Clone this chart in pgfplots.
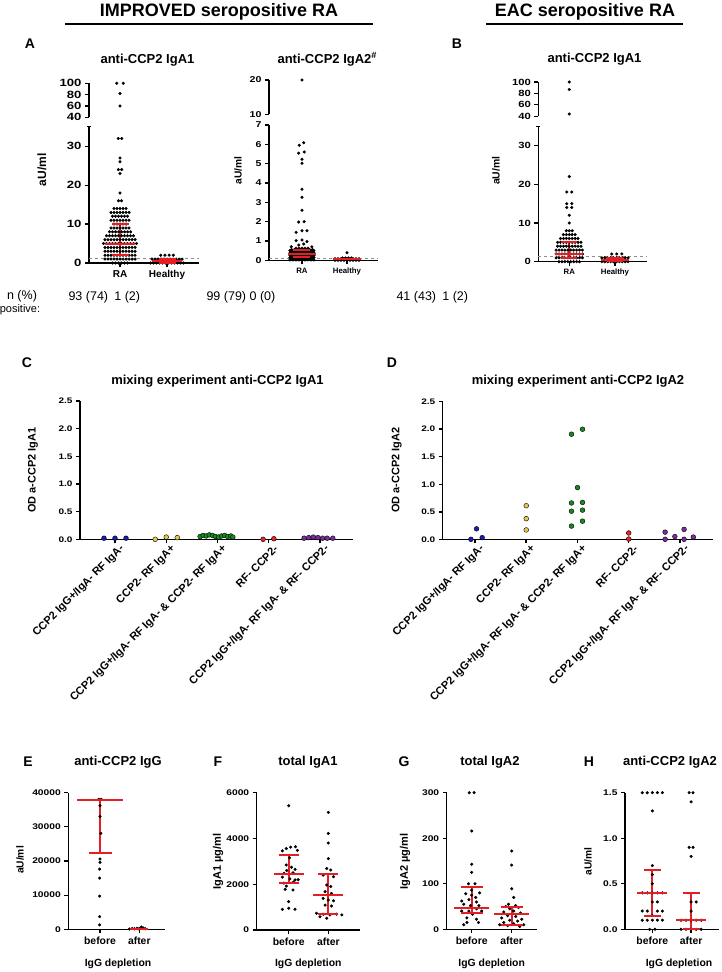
\documentclass[border=0pt]{standalone}
\usepackage{fontspec}
\setmainfont{Liberation Sans}
\newfontfamily\widefont[FakeStretch=1.25]{Liberation Sans}
\usepackage{pgfplots}
\pgfplotsset{compat=1.18}
\definecolor{ebred}{HTML}{E31E24}
\definecolor{cblue}{HTML}{1C1CB4}
\definecolor{cyellow}{HTML}{E6C84A}
\definecolor{cgreen}{HTML}{178A1E}
\definecolor{cred}{HTML}{E8252A}
\definecolor{cpurple}{HTML}{7B2C9C}
\newcommand{\fs}[1]{\fontsize{#1}{#1}\selectfont}
\newcommand{\tf}[1]{\widefont\bfseries\fontsize{#1}{#1}\selectfont}
\pgfplotsset{
  gp/.style={scale only axis, anchor=south west, axis x line*=bottom, axis y line*=left,
    tick align=outside, major tick length=4pt,
    axis line style={line width=1.2pt},
    tick style={line width=1.2pt, black},
    clip=false, scaled y ticks=false,
    /pgf/number format/assume math mode=true},
  upper/.style={axis x line=none, xtick=\empty},
  dots/.style={only marks, mark=*, mark size=1.35pt, mark options={draw=none, fill=black}},
  cdots/.style={only marks, mark=*, mark size=2.4pt, mark options={draw=none, fill=#1}},
  med/.style={only marks, mark=-, mark size=#1, ebred, line width=2pt},
  bar/.style={ebred, line width=2pt},
  cut/.style={black!45, dashed, line width=0.8pt},
}
\begin{document}
\begin{tikzpicture}
\path[use as bounding box] (0,0) rectangle (721pt,972pt);
% ---------- headers ----------
\node[anchor=base] at (219pt,955.3pt) {\bfseries\fs{18}IMPROVED seropositive RA};
\draw[line width=1.5pt] (65pt,948pt) -- (373pt,948pt);
\node[anchor=base] at (585pt,955.3pt) {\bfseries\fs{18}EAC seropositive RA};
\draw[line width=1.5pt] (486pt,948pt) -- (683pt,948pt);
\node[anchor=base] at (30pt,923.7pt) {\bfseries\fs{14}A};
\node[anchor=base] at (457pt,923.7pt) {\bfseries\fs{14}B};
\node[anchor=base west] at (97pt,908.7pt) {\bfseries\fs{13}anti-CCP2 IgA1};
\node[anchor=base west] at (274pt,908.7pt) {\bfseries\fs{13}anti-CCP2 IgA2\textsuperscript{\#}};
\node[anchor=base west] at (544pt,909.5pt) {\bfseries\fs{13}anti-CCP2 IgA1};
\node[rotate=90] at (42pt,802pt) {\bfseries\fs{12}aU/ml};
\node[rotate=90] at (238pt,801.5pt) {\bfseries\fs{10.2}aU/ml};
\node[rotate=90] at (496pt,801.2pt) {\bfseries\fs{10.4}aU/ml};
\node[anchor=base] at (22pt,672pt) {\fs{12.5}n (\%)};
\node[anchor=base] at (20pt,659.3pt) {\fs{11}positive:};
\node[anchor=base west] at (65pt,671.7pt) {\fs{12.5}93 (74)\enspace 1 (2)};
\node[anchor=base west] at (203pt,671.7pt) {\fs{12.5}99 (79) 0 (0)};
\node[anchor=base west] at (393pt,671.7pt) {\fs{12.5}41 (43)\enspace 1 (2)};
% ---------- panel A IgA1 lower ----------
\begin{axis}[gp, at={(89pt,709pt)}, width=110pt, height=136.2pt,
  xmin=0.34, xmax=2.68, ymin=0, ymax=35,
  ytick={0,10,20,30}, yticklabels={0,10,20,30},
  extra y ticks={35}, extra y tick labels={}, extra y tick style={tick align=center},
  xtick={1,2}, xticklabels={RA,Healthy},
  yticklabel style={font=\tf{10.5}}, xticklabel style={font=\bfseries\fs{10}}]
\addplot[cut] coordinates {(0.34,1.2)(2.68,1.2)};
\addplot[dots] coordinates {
(0.84,0)(0.904,0)(0.968,0)(1.032,0)(1.096,0)(1.16,0)
(0.68,1)(0.744,1)(0.808,1)(0.872,1)(0.936,1)(1,1)(1.064,1)(1.128,1)(1.192,1)(1.256,1)(1.32,1)
(0.68,2)(0.744,2)(0.808,2)(0.872,2)(0.936,2)(1,2)(1.064,2)(1.128,2)(1.192,2)(1.256,2)(1.32,2)
(0.68,3)(0.744,3)(0.808,3)(0.872,3)(0.936,3)(1,3)(1.064,3)(1.128,3)(1.192,3)(1.256,3)(1.32,3)
(0.68,4)(0.744,4)(0.808,4)(0.872,4)(0.936,4)(1,4)(1.064,4)(1.128,4)(1.192,4)(1.256,4)(1.32,4)
(0.648,5)(0.712,5)(0.776,5)(0.84,5)(0.904,5)(0.968,5)(1.032,5)(1.096,5)(1.16,5)(1.224,5)(1.288,5)(1.352,5)
(0.68,6)(0.744,6)(0.808,6)(0.872,6)(0.936,6)(1,6)(1.064,6)(1.128,6)(1.192,6)(1.256,6)(1.32,6)
(0.712,7)(0.776,7)(0.84,7)(0.904,7)(0.968,7)(1.032,7)(1.096,7)(1.16,7)(1.224,7)(1.288,7)
(0.776,8)(0.84,8)(0.904,8)(0.968,8)(1.032,8)(1.096,8)(1.16,8)(1.224,8)
(0.808,9)(0.872,9)(0.936,9)(1,9)(1.064,9)(1.128,9)(1.192,9)
(0.872,10)(0.936,10)(1,10)(1.064,10)(1.128,10)
(0.808,11)(0.872,11)(0.936,11)(1,11)(1.064,11)(1.128,11)(1.192,11)
(0.84,12)(0.904,12)(0.968,12)(1.032,12)(1.096,12)(1.16,12)
(0.808,13)(0.872,13)(0.936,13)(1,13)(1.064,13)(1.128,13)(1.192,13)
(0.872,14)(0.936,14)(1,14)(1.064,14)(1.128,14)
(0.968,16)(1.032,16)(1,18)(1,23)(0.964,24)(1.036,24)(1,26)(1,27)(0.964,32)(1.036,32)
(1.648,0)(1.712,0)(1.776,0)(1.84,0)(1.904,0)(1.968,0)(2.032,0)(2.096,0)(2.16,0)(2.224,0)(2.288,0)(2.352,0)
(1.712,0.5)(1.776,0.5)(1.84,0.5)(1.904,0.5)(1.968,0.5)(2.032,0.5)(2.096,0.5)(2.16,0.5)(2.224,0.5)(2.288,0.5)
(1.68,1)(1.744,1)(1.808,1)(1.872,1)(1.936,1)(2,1)(2.064,1)(2.128,1)(2.192,1)(2.256,1)(2.32,1)
(1.866,2)(1.955,2)(2.045,2)(2.134,2)
};
\addplot[bar] coordinates {(1,2)(1,10)};
\addplot[med=8.5pt] coordinates {(1,2)(1,10)};
\addplot[med=15pt] coordinates {(1,5)};
\addplot[bar] coordinates {(2,0.1)(2,1)};
\addplot[med=8.5pt] coordinates {(2,0.1)(2,1)};
\addplot[med=15pt] coordinates {(2,0.5)};
\end{axis}
\begin{axis}[gp, upper, at={(89pt,854.7pt)}, width=110pt, height=34pt,
  xmin=0.34, xmax=2.68, ymin=40, ymax=100,
  ytick={40,60,80,100}, yticklabels={40,60,80,100},
  yticklabel style={font=\tf{10.5}}]
\addplot[dots] coordinates {(0.93,100)(1.07,100)(1,82)(1,60)};
\end{axis}
% ---------- panel A IgA2 ----------
\begin{axis}[gp, at={(269pt,711.7pt)}, width=109pt, height=135.3pt,
  xmin=0.267, xmax=2.69, ymin=0, ymax=7,
  ytick={0,1,2,3,4,5,6,7}, yticklabels={0,1,2,3,4,5,6,7},
  xtick={1,2}, xticklabels={RA,Healthy},
  yticklabel style={font=\tf{8.5}}, xticklabel style={font=\bfseries\fs{7.8}}]
\addplot[cut] coordinates {(0.267,0.12)(2.69,0.12)};
\addplot[dots] coordinates {
(0.733,0.02)(0.8,0.02)(0.867,0.02)(0.933,0.02)(1,0.02)(1.067,0.02)(1.133,0.02)(1.2,0.02)(1.267,0.02)
(0.767,0.08)(0.833,0.08)(0.9,0.08)(0.967,0.08)(1.033,0.08)(1.1,0.08)(1.167,0.08)(1.233,0.08)
(0.733,0.14)(0.8,0.14)(0.867,0.14)(0.933,0.14)(1,0.14)(1.067,0.14)(1.133,0.14)(1.2,0.14)(1.267,0.14)
(0.767,0.2)(0.833,0.2)(0.9,0.2)(0.967,0.2)(1.033,0.2)(1.1,0.2)(1.167,0.2)(1.233,0.2)
(0.733,0.26)(0.8,0.26)(0.867,0.26)(0.933,0.26)(1,0.26)(1.067,0.26)(1.133,0.26)(1.2,0.26)(1.267,0.26)
(0.767,0.32)(0.833,0.32)(0.9,0.32)(0.967,0.32)(1.033,0.32)(1.1,0.32)(1.167,0.32)(1.233,0.32)
(0.733,0.38)(0.8,0.38)(0.867,0.38)(0.933,0.38)(1,0.38)(1.067,0.38)(1.133,0.38)(1.2,0.38)(1.267,0.38)
(0.767,0.44)(0.833,0.44)(0.9,0.44)(0.967,0.44)(1.033,0.44)(1.1,0.44)(1.167,0.44)(1.233,0.44)
(0.733,0.5)(0.8,0.5)(0.867,0.5)(0.933,0.5)(1,0.5)(1.067,0.5)(1.133,0.5)(1.2,0.5)(1.267,0.5)
(0.767,0.56)(0.833,0.56)(0.9,0.56)(0.967,0.56)(1.033,0.56)(1.1,0.56)(1.167,0.56)(1.233,0.56)
(0.867,0.62)(0.933,0.62)(1,0.62)(1.067,0.62)(1.133,0.62)
(0.94,5.95)(1.04,6.08)(0.926,5.54)(1.05,5.6)(1,5.23)(1,5.02)(1,3.68)(1,3.26)(1,2.59)
(0.926,1.98)(1.05,2.0)(0.87,1.45)(1,1.53)(1.11,1.53)(0.87,1.02)(1,1.05)(1.11,0.97)
(0.76,0.7)(0.93,0.79)(1.04,0.84)(1.22,0.7)
(1.733,0)(1.8,0)(1.867,0)(1.933,0)(2,0)(2.067,0)(2.133,0)(2.2,0)(2.267,0)
(1.767,0.04)(1.833,0.04)(1.9,0.04)(1.967,0.04)(2.033,0.04)(2.1,0.04)(2.167,0.04)(2.233,0.04)
(1.733,0.08)(1.8,0.08)(1.867,0.08)(1.933,0.08)(2,0.08)(2.067,0.08)(2.133,0.08)(2.2,0.08)(2.267,0.08)
(1.9,0.12)(1.967,0.12)(2.033,0.12)(2.1,0.12)(2,0.39)
};
\addplot[bar] coordinates {(1,0.17)(1,0.55)};
\addplot[med=8.5pt] coordinates {(1,0.17)(1,0.55)};
\addplot[med=14pt] coordinates {(1,0.35)};
\addplot[bar] coordinates {(2,0.02)(2,0.1)};
\addplot[med=14pt] coordinates {(2,0.05)};
\end{axis}
\begin{axis}[gp, upper, at={(269pt,857.7pt)}, width=109pt, height=34.3pt,
  xmin=0.267, xmax=2.69, ymin=10, ymax=20,
  ytick={10,20}, yticklabels={10,20},
  yticklabel style={font=\tf{8.5}}]
\addplot[dots] coordinates {(1,20)};
\end{axis}
% ---------- panel B ----------
\begin{axis}[gp, at={(538.3pt,710.3pt)}, width=108.4pt, height=135.4pt,
  xmin=0.322, xmax=2.694, ymin=0, ymax=35,
  ytick={0,10,20,30}, yticklabels={0,10,20,30},
  extra y ticks={35}, extra y tick labels={}, extra y tick style={tick align=center},
  xtick={1,2}, xticklabels={RA,Healthy},
  yticklabel style={font=\tf{9}}, xticklabel style={font=\bfseries\fs{7.8}}]
\addplot[cut] coordinates {(0.322,1.3)(2.694,1.3)};
\addplot[dots] coordinates {
(0.776,0)(0.84,0)(0.904,0)(0.968,0)(1.032,0)(1.096,0)(1.16,0)(1.224,0)
(0.712,1)(0.776,1)(0.84,1)(0.904,1)(0.968,1)(1.032,1)(1.096,1)(1.16,1)(1.224,1)(1.288,1)
(0.712,2)(0.776,2)(0.84,2)(0.904,2)(0.968,2)(1.032,2)(1.096,2)(1.16,2)(1.224,2)(1.288,2)
(0.712,3)(0.776,3)(0.84,3)(0.904,3)(0.968,3)(1.032,3)(1.096,3)(1.16,3)(1.224,3)(1.288,3)
(0.744,4)(0.808,4)(0.872,4)(0.936,4)(1,4)(1.064,4)(1.128,4)(1.192,4)(1.256,4)
(0.744,5)(0.808,5)(0.872,5)(0.936,5)(1,5)(1.064,5)(1.128,5)(1.192,5)(1.256,5)
(0.808,6)(0.872,6)(0.936,6)(1,6)(1.064,6)(1.128,6)(1.192,6)
(0.872,7)(0.936,7)(1,7)(1.064,7)(1.128,7)
(0.936,8)(1,8)(1.064,8)
(1,10)(1,12)(0.945,14)(1.055,14)(0.945,15)(1.055,15)(0.945,18)(1.055,18)(1,22)
(1.712,0)(1.776,0)(1.84,0)(1.904,0)(1.968,0)(2.032,0)(2.096,0)(2.16,0)(2.224,0)(2.288,0)
(1.776,0.5)(1.84,0.5)(1.904,0.5)(1.968,0.5)(2.032,0.5)(2.096,0.5)(2.16,0.5)(2.224,0.5)
(1.712,1)(1.776,1)(1.84,1)(1.904,1)(1.968,1)(2.032,1)(2.096,1)(2.16,1)(2.224,1)(2.288,1)
(1.93,2)(2.04,2)(2.15,2)
};
\addplot[bar] coordinates {(1,1)(1,5)};
\addplot[med=8pt] coordinates {(1,1)(1,5)};
\addplot[med=14pt] coordinates {(1,2)};
\addplot[bar] coordinates {(2,0.1)(2,1)};
\addplot[med=8pt] coordinates {(2,0.1)(2,1)};
\addplot[med=14pt] coordinates {(2,0.5)};
\end{axis}
\begin{axis}[gp, upper, at={(538.3pt,855.7pt)}, width=108.4pt, height=34.3pt,
  xmin=0.322, xmax=2.694, ymin=40, ymax=100,
  ytick={40,60,80,100}, yticklabels={40,60,80,100},
  yticklabel style={font=\tf{9}}]
\addplot[dots] coordinates {(1,100)(1,87)(1,44)};
\end{axis}
% ---------- panels C and D ----------
\node[anchor=base] at (27pt,604pt) {\bfseries\fs{14}C};
\node[anchor=base] at (392pt,604pt) {\bfseries\fs{14}D};
\node[anchor=base] at (217.5pt,587pt) {\bfseries\fs{13}mixing experiment anti-CCP2 IgA1};
\node[anchor=base] at (578pt,587pt) {\bfseries\fs{13}mixing experiment anti-CCP2 IgA2};
\node[rotate=90] at (33pt,501.7pt) {\bfseries\fs{10.9}OD a-CCP2 IgA1};
\node[rotate=90] at (396.7pt,501.7pt) {\bfseries\fs{10.9}OD a-CCP2 IgA2};
\pgfplotsset{mix/.style={gp, width=273pt, height=138.3pt, xmax=5.644, ymin=0, ymax=2.5,
  ytick={0,0.5,1,1.5,2,2.5}, yticklabels={0.0,0.5,1.0,1.5,2.0,2.5},
  xtick={1,2,3,4,5},
  xticklabels={CCP2 IgG+/IgA- RF IgA-, CCP2- RF IgA+, CCP2 IgG+/IgA- RF IgA- \& CCP2- RF IgA+, RF- CCP2-, CCP2 IgG+/IgA- RF IgA- \& RF- CCP2-},
  axis line style={line width=1.5pt}, tick style={line width=1.5pt, black},
  yticklabel style={font=\tf{8}},
  xticklabel style={font=\bfseries\fs{11}, rotate=45, anchor=east, xshift=6pt, yshift=-8pt}}}
\begin{axis}[mix, at={(80pt,432.7pt)}, xmin=0.317]
\addplot[cdots=cblue] coordinates {(0.785,0.02)(1,0.02)(1.215,0.02)};
\addplot[cdots=cyellow] coordinates {(1.785,0.0)(2,0.04)(2.215,0.03)};
\addplot[cdots=cgreen] coordinates {(2.66,0.05)(2.72,0.07)(2.78,0.06)(2.84,0.08)(2.9,0.07)(2.96,0.05)(3.02,0.04)(3.08,0.06)(3.14,0.07)(3.2,0.05)(3.26,0.06)(3.3,0.04)};
\addplot[cdots=cred] coordinates {(3.89,0.0)(4.1,0.01)};
\addplot[cdots=cpurple] coordinates {(4.69,0.02)(4.78,0.03)(4.87,0.04)(4.96,0.03)(5.05,0.02)(5.14,0.02)(5.25,0.02)};
\end{axis}
\begin{axis}[mix, at={(442.7pt,432.7pt)}, width=270.3pt, height=137.6pt, xmin=0.37]
\addplot[cdots=cblue] coordinates {(0.92,0.0)(1.03,0.19)(1.14,0.03)};
\addplot[cdots=cyellow] coordinates {(2,0.61)(2,0.375)(2,0.17)};
\addplot[cdots=cgreen] coordinates {(2.883,1.91)(3.098,2.0)(3,0.94)(2.883,0.66)(3.098,0.67)(2.883,0.51)(3.098,0.53)(2.883,0.24)(3.098,0.33)};
\addplot[cdots=cred] coordinates {(4,0.115)(4,0.005)};
\addplot[cdots=cpurple] coordinates {(4.71,0.13)(4.71,0.0)(4.9,0.05)(5.08,0.18)(5.08,0.0)(5.26,0.04)};
\end{axis}
% ---------- panels E-H ----------
\node[anchor=base] at (28pt,205.3pt) {\bfseries\fs{14}E};
\node[anchor=base] at (218pt,205.3pt) {\bfseries\fs{14}F};
\node[anchor=base] at (404pt,205.3pt) {\bfseries\fs{14}G};
\node[anchor=base] at (589pt,205.3pt) {\bfseries\fs{14}H};
\node[anchor=base] at (118pt,206pt) {\bfseries\fs{13}anti-CCP2 IgG};
\node[anchor=base] at (308pt,206pt) {\bfseries\fs{13}total IgA1};
\node[anchor=base] at (490pt,206pt) {\bfseries\fs{13}total IgA2};
\node[anchor=base] at (670pt,206pt) {\bfseries\fs{13}anti-CCP2 IgA2};
\node[rotate=90] at (20pt,112pt) {\bfseries\fs{10.2}aU/ml};
\node[rotate=90] at (218pt,110.3pt) {\bfseries\fs{11}IgA1 µg/ml};
\node[rotate=90] at (405pt,110.3pt) {\bfseries\fs{11}IgA2 µg/ml};
\node[rotate=90] at (588pt,110.3pt) {\bfseries\fs{10.2}aU/ml};
\node[anchor=base] at (118pt,5.3pt) {\bfseries\fs{10.4}IgG depletion};
\node[anchor=base] at (308.3pt,5.3pt) {\bfseries\fs{10.4}IgG depletion};
\node[anchor=base] at (491.7pt,5.3pt) {\bfseries\fs{10.4}IgG depletion};
\node[anchor=base] at (679pt,5.3pt) {\bfseries\fs{10.4}IgG depletion};
\pgfplotsset{dep/.style={gp, height=136.6pt, ymin=0, xtick={1,2}, xticklabels={before,after},
  yticklabel style={font=\tf{8.2}}, xticklabel style={font=\bfseries\fs{10.4}}}}
\begin{axis}[dep, at={(68.3pt,42.7pt)}, width=96.7pt, xmin=0.193, xmax=2.654, ymax=40000,
  ytick={0,10000,20000,30000,40000}, yticklabels={0,10000,20000,30000,40000}]
\addplot[dots] coordinates {(1,38000)(0.96,38000)(1.04,38000)(1,36200)(1,33000)(1.02,28100)(1,20600)(1,19600)(0.99,17600)(0.99,15000)(0.99,9700)(0.99,3700)(0.99,1300)
(1.75,100)(1.82,250)(1.88,150)(1.94,300)(2.0,200)(2.05,700)(2.1,400)(1.97,100)(2.15,150)};
\addplot[bar] coordinates {(1,22300)(1,38000)};
\addplot[med=11.5pt] coordinates {(1,22300)};
\addplot[med=23pt] coordinates {(1,38000)};
\addplot[med=9pt] coordinates {(2,200)};
\end{axis}
\begin{axis}[dep, at={(256.7pt,42pt)}, width=103.3pt, height=137.3pt, xmin=0.192, xmax=2.8, ymax=6000,
  ytick={0,2000,4000,6000}, yticklabels={0,2000,4000,6000}]
\addplot[dots] coordinates {(1,5430)(0.94,3560)(1.05,3620)(1.17,3640)(1.22,3480)(0.84,3460)(1.02,3160)(0.94,2840)(1.07,2740)(1.16,2650)(0.88,2480)(1.11,2500)(0.84,2310)(1.03,2230)(1.16,2190)(1.24,2200)(0.94,1920)(0.91,1780)(1.11,1750)(1,1240)(0.84,905)(1,950)(1.16,905)(0.88,2050)(1.12,2100)(0.95,2600)
(2,5140)(2,4220)(2,3800)(2,3120)(1.96,2690)(2.06,2620)(1.87,2400)(2.13,2330)(1.96,1970)(2.06,1900)(1.92,1680)(2.08,1600)(1.87,1380)(2,1310)(2.13,1280)(1.92,1090)(2.08,1050)(1.7,730)(1.87,690)(2.04,660)(2.21,690)(2.34,660)(1.96,510)(1.79,580)};
\addplot[bar] coordinates {(1,2050)(1,3270)};
\addplot[med=10pt] coordinates {(1,2050)(1,3270)};
\addplot[med=15pt] coordinates {(1,2450)};
\addplot[bar] coordinates {(2,720)(2,2430)};
\addplot[med=10pt] coordinates {(2,720)(2,2430)};
\addplot[med=15pt] coordinates {(2,1530)};
\end{axis}
\begin{axis}[dep, at={(446.7pt,42.7pt)}, width=90pt, xmin=0.375, xmax=2.625, ymax=300,
  ytick={0,100,200,300}, yticklabels={0,100,200,300}]
\addplot[dots] coordinates {(0.94,300)(1.06,300)(1,216)(1,143)(1,125)(0.92,100)(1.08,100)(1,86)(1.2,80)(0.85,78)(1,75)(1.1,70)(0.93,65)(0.75,62)(1.12,60)(0.8,55)(0.97,52)(1.18,52)(1.12,45)(0.75,40)(0.93,40)(1.25,40)(1.02,33)(0.88,25)(1.12,22)(0.88,15)(0.8,10)(1.17,15)
(2,172)(2,141)(2,89)(2.05,70)(1.92,55)(2.1,52)(1.85,50)(2.17,48)(1.95,45)(2.05,40)(1.8,38)(2.22,36)(1.9,30)(2.1,28)(1.75,25)(2.25,22)(1.95,20)(2.15,18)(1.8,15)(2.05,12)(1.7,10)(2.3,10)(1.9,8)(2.2,6)};
\addplot[bar] coordinates {(1,35)(1,93)};
\addplot[med=10.8pt] coordinates {(1,35)(1,93)};
\addplot[med=17.5pt] coordinates {(1,46)};
\addplot[bar] coordinates {(2,10)(2,50)};
\addplot[med=10.8pt] coordinates {(2,10)(2,50)};
\addplot[med=17.5pt] coordinates {(2,33)};
\end{axis}
\begin{axis}[dep, at={(625pt,42.7pt)}, width=94pt, xmin=0.295, xmax=2.72, ymax=1.5,
  ytick={0,0.5,1,1.5}, yticklabels={0.0,0.5,1.0,1.5}]
\addplot[dots] coordinates {(0.74,1.5)(0.87,1.5)(1,1.5)(1.13,1.5)(1.26,1.5)(1,1.3)(1,0.7)(1,0.6)(1,0.5)(0.74,0.4)(0.87,0.4)(1,0.4)(1.13,0.4)(1.26,0.4)(1,0.3)(1.13,0.3)(0.74,0.2)(0.87,0.2)(1.13,0.2)(1.26,0.2)(1,0.15)(0.74,0.1)(0.87,0.1)(1,0.1)(1.13,0.1)(1.26,0.1)(0.93,0)(1.07,0)
(1.95,1.5)(2.05,1.5)(2,1.4)(1.95,0.9)(2.05,0.9)(2,0.8)(2,0.3)(2.13,0.3)(2,0.2)(1.74,0.1)(1.87,0.1)(2,0.1)(2.13,0.1)(2.26,0.1)(1.74,0)(1.87,0)(2,0)(2.13,0)(2.26,0)};
\addplot[bar] coordinates {(1,0.15)(1,0.65)};
\addplot[med=8.5pt] coordinates {(1,0.15)(1,0.65)};
\addplot[med=15pt] coordinates {(1,0.4)};
\addplot[bar] coordinates {(2,0)(2,0.4)};
\addplot[med=8.5pt] coordinates {(2,0)(2,0.4)};
\addplot[med=15pt] coordinates {(2,0.1)};
\end{axis}
\end{tikzpicture}
\end{document}
